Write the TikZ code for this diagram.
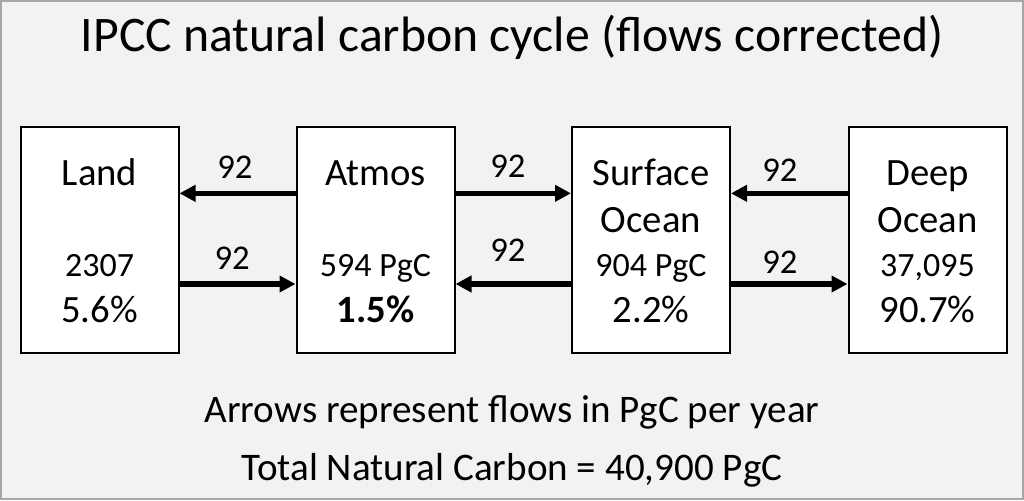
\documentclass[tikz,border=0pt]{standalone}
\usepackage{fontspec}
\setmainfont{Carlito}
\usetikzlibrary{arrows.meta}

\definecolor{canvas}{HTML}{F2F2F2}
\definecolor{frame}{HTML}{A6A6A6}

\tikzset{
  store/.style={draw=black,line width=1.5pt,fill=white,
    minimum width=118.5pt,minimum height=169.5pt,inner sep=0pt},
  flow/.style={line width=3.8pt,-{Triangle[length=12pt,width=12pt]}},
  lbl/.style={font=\fontsize{26}{30}\selectfont,inner sep=0pt},
  bigtxt/.style={font=\fontsize{29}{34}\selectfont,anchor=base,inner sep=0pt},
  numtxt/.style={font=\fontsize{25.5}{30}\selectfont,anchor=base,inner sep=0pt},
  note/.style={font=\fontsize{29.3}{34}\selectfont,anchor=base,inner sep=0pt}
}

\begin{document}
\begin{tikzpicture}[x=0.75pt,y=-0.75pt]
\draw[frame,fill=canvas,line width=1.2pt](1,1) rectangle (1023,499);
\useasboundingbox (0,0) rectangle (1024,500);
\node[anchor=base,inner sep=0pt,font=\fontsize{37.3}{43}\selectfont] (title) at (512,51)
  {IPCC natural carbon cycle (flows corrected)};
% reservoirs
\foreach \id/\x/\ta/\tb/\num/\pct in {
  land/99.5/Land//2307/5.6\%,
  atmos/375.5/Atmos//594 PgC/\textbf{1.5\%},
  surf/651/Surface/Ocean/904 PgC/2.2\%,
  deep/927.5/Deep/Ocean/{37,095}/90.7\%}{
  \node[store] (\id) at (\x,240) {};
  \node[bigtxt] (\id-a) at (\x,185) {\ta};
  \node[bigtxt] (\id-b) at (\x,232) {\tb};
  \node[numtxt] (\id-n) at (\x,276) {\num};
  \node[bigtxt] (\id-p) at (\x,322) {\pct};
}
% flows
\draw[flow]([yshift=35pt]atmos.west)--node[lbl,yshift=19.5pt,xshift=-2pt]{92}([yshift=35pt]land.east);
\draw[flow]([yshift=-33pt]land.east)--node[lbl,yshift=19.5pt,xshift=-4pt]{92}([yshift=-33pt]atmos.west);
\draw[flow]([yshift=35pt]atmos.east)--node[lbl,yshift=20pt,xshift=-4pt]{92}([yshift=35pt]surf.west);
\draw[flow]([yshift=-33pt]surf.west)--node[lbl,yshift=25pt,xshift=-4pt]{92}([yshift=-33pt]atmos.east);
\draw[flow]([yshift=35pt]deep.west)--node[lbl,yshift=17pt,xshift=-7pt]{92}([yshift=35pt]surf.east);
\draw[flow]([yshift=-33pt]surf.east)--node[lbl,yshift=16pt,xshift=-7pt]{92}([yshift=-33pt]deep.west);
\node[note] (unit) at (512,422) {Arrows represent flows in PgC per year};
\node[note] (total) at (512,480) {Total Natural Carbon = 40,900 PgC};
\end{tikzpicture}
\end{document}
